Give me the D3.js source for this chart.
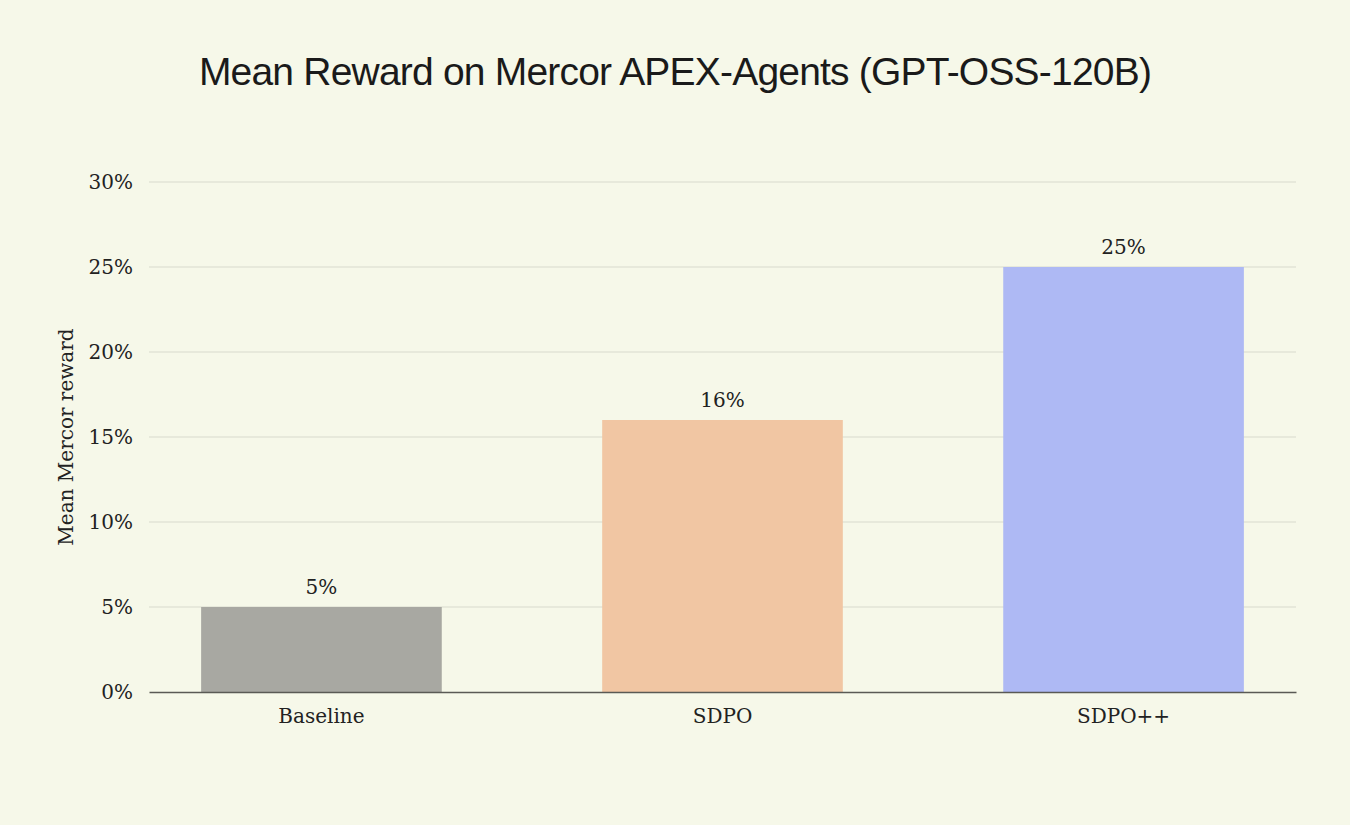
<!DOCTYPE html>
<html><head><meta charset="utf-8">
<script src="https://cdn.jsdelivr.net/npm/d3@7"></script>
<style>
html,body{margin:0;padding:0;background:#f6f8e9;}
</style></head>
<body>
<svg id="chart" width="1350" height="825"></svg>
<script>
const categories = ["Baseline", "SDPO", "SDPO++"];
const values = [5, 16, 25];
const barColors = ["#a8a8a2", "#f1c6a3", "#aeb9f4"];
const yTicks = [0, 5, 10, 15, 20, 25, 30];
const title = "Mean Reward on Mercor APEX-Agents (GPT-OSS-120B)";
const yLabel = "Mean Mercor reward";

const svg = d3.select("#chart");
const W = 1350, H = 825;
const m = {left:149, right:54, top:182, bottom:133};
const serif = "'DejaVu Serif', 'Liberation Serif', serif";
const fs = 20;

svg.append("rect").attr("width",W).attr("height",H).attr("fill","#f6f8e9");

const x = d3.scaleBand().domain(categories).range([m.left, W-m.right]).paddingInner(0.4).paddingOuter(0.13);
const y = d3.scaleLinear().domain([0,30]).range([H-m.bottom, m.top]);

// grid
svg.append("g").selectAll("line").data(yTicks.filter(d=>d>0)).join("line")
  .attr("x1", m.left).attr("x2", W-m.right)
  .attr("y1", d=>y(d)).attr("y2", d=>y(d))
  .attr("stroke","#e2e5d6").attr("stroke-width",1.5);

// y axis
const yAxis = svg.append("g").attr("transform",`translate(${m.left},0)`)
  .call(d3.axisLeft(y).tickValues(yTicks).tickFormat(d=>d+"%").tickSize(0).tickPadding(16));
yAxis.select(".domain").remove();
yAxis.selectAll("text").attr("font-family",serif).attr("font-size",fs).attr("fill","#222");

// bars
svg.append("g").selectAll("rect").data(values).join("rect")
  .attr("x",(d,i)=>x(categories[i])).attr("width",x.bandwidth())
  .attr("y",d=>y(d)).attr("height",d=>y(0)-y(d))
  .attr("fill",(d,i)=>barColors[i]);

// value labels
svg.append("g").selectAll("text").data(values).join("text")
  .attr("x",(d,i)=>x(categories[i])+x.bandwidth()/2)
  .attr("y",d=>y(d)-13)
  .attr("text-anchor","middle")
  .attr("font-family",serif).attr("font-size",fs).attr("fill","#222")
  .text(d=>d+"%");

// x axis
const xAxis = svg.append("g").attr("transform",`translate(0,${y(0)})`)
  .call(d3.axisBottom(x).tickSize(0).tickPadding(17));
xAxis.select(".domain").attr("stroke","#5a5a55").attr("stroke-width",1.5);
xAxis.selectAll("text").attr("font-family",serif).attr("font-size",fs).attr("fill","#222");

// y label
svg.append("text")
  .attr("transform",`translate(73,${(y(0)+y(30))/2}) rotate(-90)`)
  .attr("text-anchor","middle")
  .attr("font-family",serif).attr("font-size",fs).attr("fill","#222")
  .text(yLabel);

// title
svg.append("text").attr("x",675).attr("y",85).attr("text-anchor","middle")
  .attr("font-family","'Liberation Sans', Arial, sans-serif").attr("font-size",39).attr("fill","#1a1a1a")
  .attr("letter-spacing","-0.8")
  .text(title);
</script>
</body></html>
